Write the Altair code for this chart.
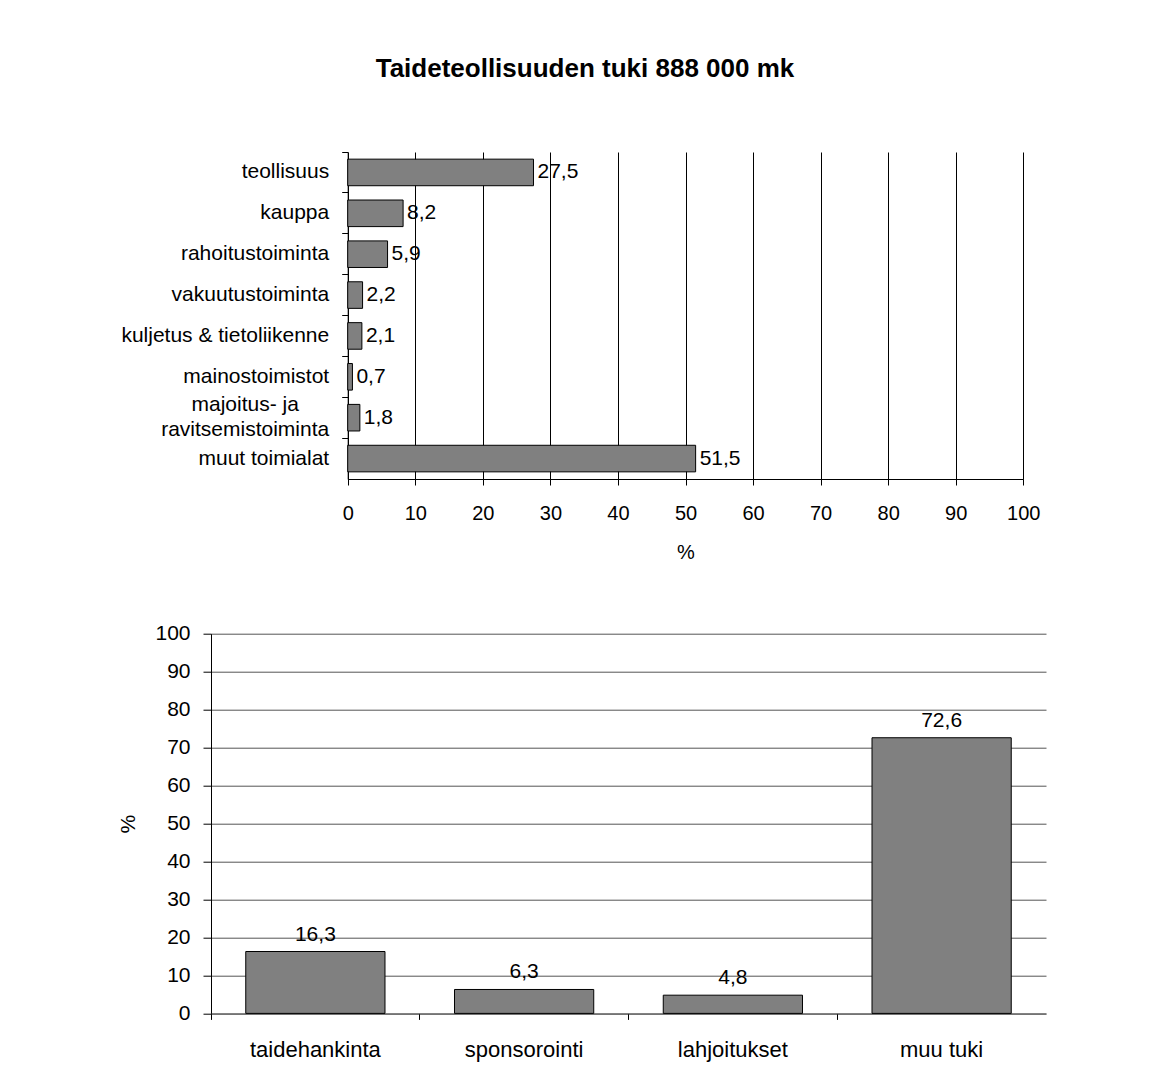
import altair as alt
import pandas as pd

FONT = "Liberation Sans"

title_text = "Taideteollisuuden tuki 888 000 mk"

sector_names = [
    "teollisuus",
    "kauppa",
    "rahoitustoiminta",
    "vakuutustoiminta",
    "kuljetus & tietoliikenne",
    "mainostoimistot",
    "majoitus- ja ravitsemistoiminta",
    "muut toimialat",
]
sector_shares = [27.5, 8.2, 5.9, 2.2, 2.1, 0.7, 1.8, 51.5]

support_types = ["taidehankinta", "sponsorointi", "lahjoitukset", "muu tuki"]
support_shares = [16.3, 6.3, 4.8, 72.6]

pct_ticks = [0, 10, 20, 30, 40, 50, 60, 70, 80, 90, 100]

top_df = pd.DataFrame({"toimiala": sector_names, "osuus": sector_shares})
bot_df = pd.DataFrame({"tuki": support_types, "osuus": support_shares})

fmt = "replace(format(datum.osuus, '.1f'), '.', ',')"
two_line = "majoitus- ja ravitsemistoiminta"
is_two = f"datum.value == '{two_line}'"
split_expr = (f"datum.label == '{two_line}' ? "
              "['majoitus- ja', 'ravitsemistoiminta'] : datum.label")

# ---------- top: horizontal bars ----------
top_x = alt.X(
    "osuus:Q",
    scale=alt.Scale(domain=[0, 100], range=[136.7, 812.3], nice=False, zero=True),
    axis=alt.Axis(
        values=pct_ticks, grid=True, gridColor="black", gridWidth=1, gridOpacity=1,
        domainColor="black", tickColor="black", tickSize=6, labelFlush=False,
        labelFontSize=20, labelPadding=18, labelColor="black", labelFont=FONT,
        title="%", titleFontSize=20, titleFontWeight="normal", titleFont=FONT,
        titleColor="black", titlePadding=19,
    ),
)
top_y = alt.Y(
    "toimiala:N",
    sort=sector_names,
    scale=alt.Scale(paddingInner=0, paddingOuter=0),
    axis=alt.Axis(
        title=None, offset=-136.7, bandPosition=0, tickSize=6, tickColor="black",
        domainColor="black", labelFontSize=21, labelColor="black",
        labelFont=FONT, labelExpr=split_expr, labelLineHeight=25, labelLimit=500,
        labelOffset=alt.ConditionalAxisNumber(
            condition={"test": is_two, "value": -12.5}, value=0
        ),
        labelAlign=alt.ConditionalAxisLabelAlign(
            condition={"test": is_two, "value": "center"}, value="right"
        ),
        labelPadding=alt.ConditionalAxisNumber(
            condition={"test": is_two, "value": 97}, value=13
        ),
        grid=False,
    ),
)

top_base = alt.Chart(top_df).encode(x=top_x, y=top_y)
top_bars = top_base.mark_bar(
    color="#808080", stroke="black", strokeWidth=1, height=alt.RelativeBandSize(0.65)
)
top_text = top_base.transform_calculate(lbl=fmt).mark_text(
    align="left", baseline="middle", dx=4, fontSize=21, font=FONT, color="black"
).encode(text="lbl:N")

top = (top_bars + top_text).properties(width=812.3, height=327)

# ---------- bottom: vertical bars ----------
bot_x = alt.X(
    "tuki:N",
    sort=support_types,
    scale=alt.Scale(paddingInner=0, paddingOuter=0),
    axis=alt.Axis(
        title=None, labelAngle=0, bandPosition=0, tickSize=6, tickColor="black",
        domainColor="#555555", labelFontSize=22, labelPadding=20, labelColor="black",
        labelFont=FONT, grid=False,
    ),
)
bot_y = alt.Y(
    "osuus:Q",
    scale=alt.Scale(domain=[0, 100], nice=False),
    axis=alt.Axis(
        values=pct_ticks, grid=True, gridColor="#555555", gridWidth=1, gridOpacity=1,
        domainColor="black", tickColor="black", tickSize=8,
        labelFontSize=21, labelPadding=13, labelColor="black", labelFont=FONT,
        title="%", titleFontSize=21, titleFontWeight="normal", titleFont=FONT,
        titleColor="black", titlePadding=16,
    ),
)

bot_base = alt.Chart(bot_df).encode(x=bot_x, y=bot_y)
bot_bars = bot_base.mark_bar(
    color="#808080", stroke="black", strokeWidth=1, width=alt.RelativeBandSize(0.667)
)
bot_text = bot_base.transform_calculate(lbl=fmt).mark_text(
    align="center", baseline="alphabetic", dy=-11, fontSize=21, font=FONT, color="black"
).encode(text="lbl:N")

bottom = (bot_bars + bot_text).properties(width=835, height=379.7)

chart = alt.vconcat(top, bottom, spacing=154.7, bounds="flush").properties(
    title=alt.TitleParams(
        text=title_text, font=FONT, fontSize=26, fontWeight="bold", color="black",
        anchor="middle", offset=70, dx=3,
    ),
    padding={"left": 109, "top": 47, "right": 5, "bottom": 5},
    background="white",
).configure_view(stroke=None)

chart.save("out.html", embed_options={"renderer": "svg", "actions": False})
